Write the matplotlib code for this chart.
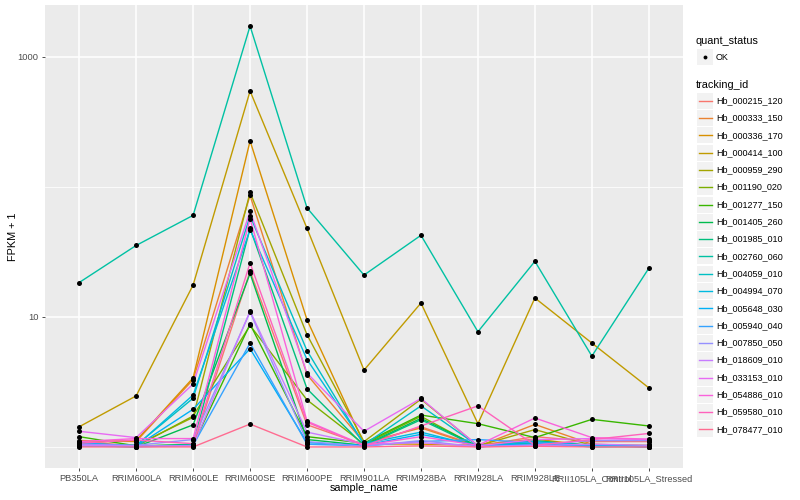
import numpy as np
import matplotlib
matplotlib.use("Agg")
import matplotlib.pyplot as plt
from matplotlib.lines import Line2D
from matplotlib.patches import Rectangle

plt.rcParams['font.family'] = ['Liberation Sans', 'DejaVu Sans']

samples = ["PB350LA", "RRIM600LA", "RRIM600LE", "RRIM600SE", "RRIM600PE", "RRIM901LA",
           "RRIM928BA", "RRIM928LA", "RRIM928LE", "RRII105LA_Control", "RRII105LA_Stressed"]

tracking_ids = ["Hb_000215_120", "Hb_000333_150", "Hb_000336_170", "Hb_000414_100",
                "Hb_000959_290", "Hb_001190_020", "Hb_001277_150", "Hb_001405_260",
                "Hb_001985_010", "Hb_002760_060", "Hb_004059_010", "Hb_004994_070",
                "Hb_005648_030", "Hb_005940_040", "Hb_007850_050", "Hb_018609_010",
                "Hb_033153_010", "Hb_054886_010", "Hb_059580_010", "Hb_078477_010"]

# ggplot default hue palette for 20 levels
colors = ["#F8766D", "#EA8331", "#D89000", "#C09B00", "#A3A500", "#7CAE00", "#39B600",
          "#00BB4E", "#00BF7D", "#00C1A3", "#00BFC4", "#00BAE0", "#00B0F6", "#35A2FF",
          "#9590FF", "#C77CFF", "#E76BF3", "#FA62DB", "#FF62BC", "#FF6C91"]

# FPKM + 1 per sample, one value per tracking_id (same order as tracking_ids)
pb350la   = [1.10, 1.12, 1.08, 1.43, 1.05, 1.04, 1.20, 1.03, 1.02, 18.4,
             1.06, 1.04, 1.08, 1.02, 1.05, 1.03, 1.32, 1.10, 1.07, 1.00]
rrim600la = [1.02, 1.10, 1.12, 2.47, 1.03, 1.01, 1.02, 1.00, 1.01, 35.5,
             1.03, 1.02, 1.01, 1.00, 1.03, 1.02, 1.18, 1.16, 1.13, 1.00]
rrim600le = [1.02, 3.30, 3.40, 17.6, 1.69, 1.73, 1.04, 1.48, 1.05, 60.5,
             2.37, 2.51, 1.95, 1.03, 1.14, 1.02, 3.05, 1.16, 1.06, 1.00]
rrim600se = [22.5, 86.0, 226.0, 547.0, 91.0, 8.6, 8.8, 21.6, 48.0, 1730.0,
             60.0, 47.0, 5.7, 6.3, 10.9, 11.1, 65.0, 57.0, 26.0, 1.5]
rrim600pe = [1.48, 3.60, 9.5, 48.0, 7.3, 2.3, 1.20, 1.14, 2.8, 69.0,
             5.5, 4.7, 1.08, 1.05, 1.10, 1.30, 3.7, 1.58, 1.55, 1.00]
rrim901la = [1.04, 1.08, 1.06, 3.9, 1.10, 1.05, 1.07, 1.03, 1.02, 21.0,
             1.04, 1.06, 1.03, 1.02, 1.01, 1.05, 1.32, 1.03, 1.02, 1.00]
rrim928ba = [1.43, 1.40, 1.05, 12.8, 2.33, 1.72, 1.76, 1.66, 1.62, 42.5,
             2.07, 1.30, 1.25, 1.10, 1.12, 1.08, 2.36, 1.20, 1.45, 1.02]
rrim928la = [1.02, 1.01, 1.03, 1.51, 1.02, 1.00, 1.51, 1.01, 1.00, 7.7,
             1.02, 1.01, 1.03, 1.14, 1.00, 1.01, 1.02, 1.03, 2.07, 1.00]
rrim928le = [1.20, 1.49, 1.15, 14.0, 1.36, 1.10, 1.18, 1.12, 1.08, 26.8,
             1.06, 1.10, 1.05, 1.08, 1.04, 1.02, 1.14, 1.67, 1.03, 1.01]
rrii105la_control = [1.10, 1.05, 1.02, 6.3, 1.03, 1.01, 1.63, 1.02, 1.00, 5.0,
                     1.04, 1.03, 1.01, 1.02, 1.12, 1.05, 1.16, 1.18, 1.14, 1.00]
rrii105la_stressed = [1.10, 1.02, 1.01, 2.85, 1.03, 1.00, 1.45, 1.01, 1.02, 23.7,
                      1.00, 1.02, 1.01, 1.00, 1.12, 1.03, 1.14, 1.15, 1.27, 1.00]

values = np.array([pb350la, rrim600la, rrim600le, rrim600se, rrim600pe, rrim901la,
                   rrim928ba, rrim928la, rrim928le, rrii105la_control,
                   rrii105la_stressed]).T

W, H = 800, 500
fig = plt.figure(figsize=(W / 100, H / 100), dpi=100)
ax = fig.add_axes([45 / W, 1 - 468 / H, (683 - 45) / W, (468 - 5) / H])
ax.set_facecolor("#EBEBEB")
for s in ax.spines.values():
    s.set_visible(False)

x = np.arange(len(samples))
for i, tid in enumerate(tracking_ids):
    ax.plot(x, values[i], color=colors[i], lw=1.0, zorder=3)
for i in range(len(tracking_ids)):
    ax.plot(x, values[i], 'o', color='black', ms=3.6, mew=0, zorder=4)

ax.set_yscale('log')
lo, hi = np.log10(values.min()), np.log10(values.max())
pad = 0.05 * (hi - lo)
ax.set_ylim(10 ** (lo - pad), 10 ** (hi + pad))
ax.set_xlim(-0.6, len(samples) - 1 + 0.6)

ax.set_yticks([10, 1000])
ax.set_yticklabels(["10", "1000"])
ax.set_yticks([1, 100], minor=True)
ax.yaxis.set_minor_formatter(plt.NullFormatter())
ax.set_xticks(x)
ax.set_xticklabels(samples)

ax.grid(True, which='major', color='white', lw=1.1, zorder=0)
ax.grid(True, which='minor', axis='y', color='white', lw=0.55, zorder=0)
ax.set_axisbelow(True)
ax.tick_params(which='major', length=2.5, width=0.6, color='#333333',
               labelsize=6.7, labelcolor='#4D4D4D', pad=2)
ax.tick_params(which='minor', length=0)

ax.set_xlabel("sample_name", fontsize=7.8)
ax.set_ylabel("FPKM + 1", fontsize=7.8)
ax.xaxis.set_label_coords(0.5, -(488 - 468) / 463, transform=ax.transAxes)
ax.yaxis.set_label_coords(-(45 - 13) / 638, 0.5, transform=ax.transAxes)
ax.xaxis.label.set_va('center')
ax.yaxis.label.set_va('center')

# legend drawn by hand, ggplot style
lx = 696 / W
fig.text(lx, 1 - 41 / H, "quant_status", fontsize=7.8, va='center', ha='left')
kx0, kw, kh = 697, 16, 16
fig.patches.append(Rectangle((kx0 / W, 1 - 65 / H), kw / W, kh / H,
                             transform=fig.transFigure, facecolor='#F2F2F2',
                             edgecolor='none'))
fig.lines.append(Line2D([(kx0 + kw / 2) / W], [1 - 57 / H], marker='o', color='black',
                        ms=2.8, mew=0, transform=fig.transFigure))
fig.text(716 / W, 1 - 57 / H, "OK", fontsize=6.5, va='center', ha='left')

fig.text(lx, 1 - 85 / H, "tracking_id", fontsize=7.8, va='center', ha='left')
for i, tid in enumerate(tracking_ids):
    yc = 100.7 + i * 17.3
    fig.patches.append(Rectangle((kx0 / W, 1 - (yc + kh / 2) / H), kw / W, kh / H,
                                 transform=fig.transFigure, facecolor='#F2F2F2',
                                 edgecolor='none'))
    fig.lines.append(Line2D([(kx0 + 1.5) / W, (kx0 + kw - 1.5) / W], [1 - yc / H] * 2,
                            color=colors[i], lw=1.0, transform=fig.transFigure))
    fig.text(716 / W, 1 - yc / H, tid, fontsize=6.5, va='center', ha='left')

fig.savefig("out.png", dpi=100)
